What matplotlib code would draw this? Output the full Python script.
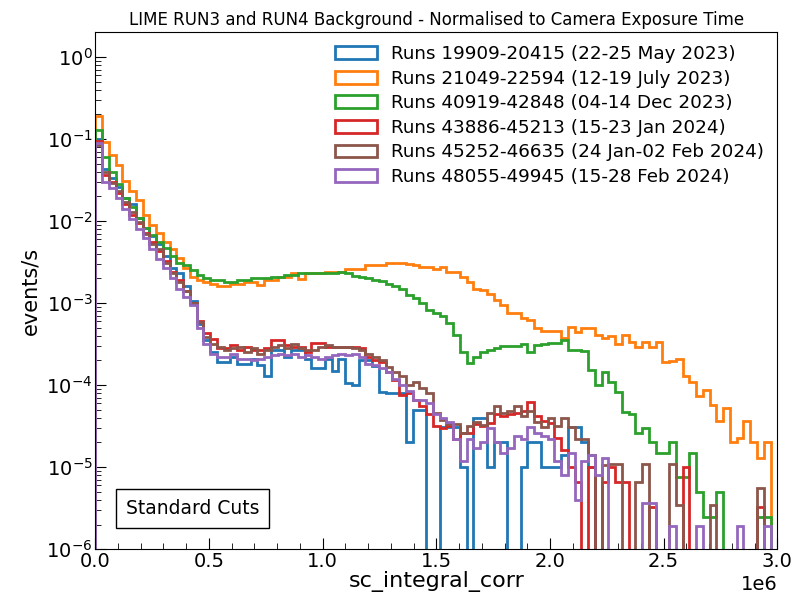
import numpy as np
import matplotlib
matplotlib.use("Agg")
import matplotlib.pyplot as plt
from matplotlib.ticker import MultipleLocator

# 100 bins from 0 to 2.97e6
edges = np.linspace(0, 2.97e6, 101)

labels = [
    "Runs 19909-20415 (22-25 May 2023)",
    "Runs 21049-22594 (12-19 July 2023)",
    "Runs 40919-42848 (04-14 Dec 2023)",
    "Runs 43886-45213 (15-23 Jan 2024)",
    "Runs 45252-46635 (24 Jan-02 Feb 2024)",
    "Runs 48055-49945 (15-28 Feb 2024)",
]
colors = ["tab:blue", "tab:orange", "tab:green", "tab:red", "tab:brown", "tab:purple"]

run_may = [
    0.10, 0.043, 0.033, 0.026, 0.019, 0.016, 0.011, 0.0082, 0.0065, 0.0052,
    0.0037, 0.0027, 0.0023, 0.0016, 1.05e-3, 5.5e-4, 3.5e-4, 2.55e-4, 1.9e-4, 1.9e-4,
    2.2e-4, 1.8e-4, 1.8e-4, 2.1e-4, 1.75e-4, 1.3e-4, 2.7e-4, 2.7e-4, 2.2e-4, 2.7e-4,
    2.7e-4, 2.1e-4, 1.6e-4, 1.6e-4, 2.1e-4, 1.5e-4, 2.1e-4, 1.05e-4, 1.0e-4, 2.0e-4,
    2.0e-4, 1.7e-4, 8.3e-5, 8.0e-5, 8.0e-5, 8.0e-5, 2.0e-5, 5.0e-5, 5.0e-5, 0,
    0, 3.1e-5, 3.1e-5, 3.1e-5, 1.0e-5, 0, 4.0e-5, 4.0e-5, 1.0e-5, 2.0e-5,
    2.0e-5, 0, 0, 1.0e-5, 2.0e-5, 2.0e-5, 1.0e-5, 1.0e-5, 1.0e-5, 1.4e-5,
    3.1e-5, 3.1e-5, 2.0e-5, 1.0e-5, 0, 0, 0, 0, 0, 0,
    0, 0, 0, 0, 0, 0, 0, 0, 0, 0,
    0, 0, 0, 0, 0, 0, 0, 0, 0, 0,
]
run_july = [
    0.19, 0.093, 0.063, 0.048, 0.031, 0.023, 0.018, 0.012, 0.0089, 0.0071,
    0.0056, 0.0045, 0.0035, 0.0027, 0.0021, 0.0019, 0.0018, 0.0017, 0.0016, 0.0016,
    1.7e-3, 1.7e-3, 1.8e-3, 1.8e-3, 1.66e-3, 1.9e-3, 1.9e-3, 2.07e-3, 2.1e-3, 2.3e-3,
    1.95e-3, 2.3e-3, 2.3e-3, 2.3e-3, 2.4e-3, 2.4e-3, 2.4e-3, 2.6e-3, 2.6e-3, 2.6e-3,
    2.9e-3, 2.9e-3, 2.9e-3, 3.1e-3, 3.1e-3, 3.1e-3, 3.0e-3, 2.9e-3, 2.75e-3, 2.75e-3,
    2.6e-3, 2.75e-3, 2.4e-3, 2.4e-3, 2.1e-3, 1.8e-3, 1.5e-3, 1.45e-3, 1.3e-3, 1.1e-3,
    9.5e-4, 7.6e-4, 7.6e-4, 6.6e-4, 6.3e-4, 4.95e-4, 4.6e-4, 4.6e-4, 4.6e-4, 3.8e-4,
    5.1e-4, 4.4e-4, 4.95e-4, 4.95e-4, 4.1e-4, 3.8e-4, 4.0e-4, 3.2e-4, 4.1e-4, 3.4e-4,
    2.9e-4, 3.4e-4, 2.9e-4, 3.4e-4, 1.9e-4, 1.95e-4, 2.1e-4, 1.3e-4, 1.1e-4, 7.3e-5,
    8.7e-5, 5.8e-5, 3.7e-5, 5.2e-5, 2.0e-5, 2.3e-5, 3.7e-5, 2.0e-5, 1.3e-5, 2.0e-5,
]
run_dec = [
    0.13, 0.06, 0.04, 0.028, 0.019, 0.0147, 0.011, 0.0082, 0.0067, 0.0056,
    0.0047, 0.0037, 0.0031, 0.0029, 0.0025, 0.0022, 0.0020, 0.0019, 0.0019, 0.0018,
    1.8e-3, 1.9e-3, 1.9e-3, 2.0e-3, 2.0e-3, 2.05e-3, 2.07e-3, 2.1e-3, 2.2e-3, 2.2e-3,
    2.3e-3, 2.3e-3, 2.3e-3, 2.3e-3, 2.35e-3, 2.35e-3, 2.4e-3, 2.3e-3, 2.15e-3, 2.1e-3,
    2.0e-3, 1.9e-3, 1.85e-3, 1.7e-3, 1.6e-3, 1.5e-3, 1.26e-3, 1.15e-3, 1.0e-3, 8.3e-4,
    7.6e-4, 7.0e-4, 5.7e-4, 4.1e-4, 2.5e-4, 1.85e-4, 2.2e-4, 2.5e-4, 2.7e-4, 2.85e-4,
    3.0e-4, 3.0e-4, 3.0e-4, 3.2e-4, 2.5e-4, 3.1e-4, 3.2e-4, 3.3e-4, 3.3e-4, 3.5e-4,
    2.7e-4, 2.7e-4, 2.6e-4, 1.55e-4, 1.0e-4, 1.45e-4, 1.1e-4, 8.3e-5, 4.7e-5, 4.5e-5,
    2.6e-5, 3.0e-5, 2.0e-5, 1.5e-5, 1.5e-5, 2.0e-5, 7.5e-6, 7.5e-6, 1.5e-5, 5.0e-6,
    2.5e-6, 2.5e-6, 5.0e-6, 0, 0, 0, 0, 0, 2.5e-6, 2.5e-6,
]
run_jan = [
    0.095, 0.036, 0.03, 0.022, 0.016, 0.012, 0.0095, 0.0072, 0.0055, 0.0043,
    0.0033, 0.0024, 0.0019, 0.0014, 1.0e-3, 6.0e-4, 4.3e-4, 3.7e-4, 2.8e-4, 2.8e-4,
    3.1e-4, 2.7e-4, 2.9e-4, 2.7e-4, 2.7e-4, 2.8e-4, 3.5e-4, 3.5e-4, 3.1e-4, 2.9e-4,
    2.9e-4, 2.55e-4, 3.3e-4, 3.3e-4, 2.9e-4, 2.9e-4, 2.9e-4, 2.9e-4, 2.9e-4, 2.8e-4,
    2.2e-4, 2.0e-4, 1.9e-4, 1.45e-4, 1.15e-4, 7.5e-5, 8.0e-5, 6.5e-5, 5.5e-5, 4.5e-5,
    3.2e-5, 3.0e-5, 3.2e-5, 2.2e-5, 2.6e-5, 2.6e-5, 3.4e-5, 3.2e-5, 3.5e-5, 4.5e-5,
    4.2e-5, 4.4e-5, 4.6e-5, 4.8e-5, 6.2e-5, 4.2e-5, 3.7e-5, 3.5e-5, 2.3e-5, 1.6e-5,
    1.0e-5, 6.6e-6, 0, 1.0e-5, 0, 6.6e-6, 1.0e-5, 6.6e-6, 6.6e-6, 0,
    0, 0, 3.3e-6, 0, 0, 0, 0, 1.0e-5, 0, 0,
    0, 0, 0, 0, 0, 0, 0, 0, 3.3e-6, 0,
]
run_feb1 = [
    0.085, 0.04, 0.029, 0.023, 0.017, 0.013, 0.0098, 0.007, 0.0052, 0.0045,
    0.0031, 0.0023, 0.0018, 0.0014, 1.0e-3, 5.8e-4, 3.9e-4, 3.2e-4, 2.9e-4, 2.7e-4,
    2.8e-4, 2.9e-4, 2.55e-4, 2.8e-4, 2.4e-4, 2.7e-4, 2.9e-4, 3.1e-4, 2.8e-4, 3.2e-4,
    2.8e-4, 2.7e-4, 2.7e-4, 2.9e-4, 3.1e-4, 2.9e-4, 2.9e-4, 2.9e-4, 2.8e-4, 2.7e-4,
    2.4e-4, 2.2e-4, 2.0e-4, 1.65e-4, 1.45e-4, 1.3e-4, 1.0e-4, 1.1e-4, 9.2e-5, 8.0e-5,
    4.6e-5, 3.8e-5, 3.4e-5, 3.4e-5, 2.6e-5, 3.2e-5, 3.6e-5, 3.3e-5, 4.6e-5, 5.5e-5,
    4.6e-5, 4.8e-5, 5.5e-5, 4.2e-5, 4.8e-5, 3.6e-5, 3.1e-5, 4.0e-5, 3.2e-5, 4.0e-5,
    3.1e-5, 2.2e-5, 2.2e-5, 1.4e-5, 0, 1.05e-5, 1.1e-5, 1.1e-5, 0, 0,
    6.6e-6, 1.1e-5, 0, 0, 0, 1.1e-5, 3.5e-6, 0, 0, 0,
    0, 3.5e-6, 0, 0, 0, 0, 0, 0, 5.6e-6, 0,
]
run_feb2 = [
    0.09, 0.03, 0.025, 0.019, 0.014, 0.0105, 0.008, 0.0063, 0.0045, 0.0034,
    0.0027, 0.002, 0.0015, 0.0012, 9.5e-4, 5.0e-4, 3.2e-4, 2.4e-4, 2.2e-4, 2.2e-4,
    2.4e-4, 2.1e-4, 2.1e-4, 2.0e-4, 2.1e-4, 2.2e-4, 2.3e-4, 2.4e-4, 2.3e-4, 2.4e-4,
    2.2e-4, 2.3e-4, 2.2e-4, 2.1e-4, 2.2e-4, 2.3e-4, 2.4e-4, 2.3e-4, 2.4e-4, 2.2e-4,
    1.8e-4, 1.75e-4, 1.6e-4, 1.45e-4, 1.2e-4, 1.0e-4, 8.5e-5, 6.6e-5, 6.6e-5, 6.0e-5,
    4.5e-5, 4.0e-5, 3.6e-5, 2.2e-5, 1.2e-5, 2.2e-5, 1.7e-5, 2.0e-5, 3.0e-5, 2.0e-5,
    1.5e-5, 1.7e-5, 2.4e-5, 2.2e-5, 3.1e-5, 2.6e-5, 2.4e-5, 2.2e-5, 1.2e-5, 8.0e-6,
    1.5e-5, 4.0e-6, 1.2e-5, 1.4e-5, 8.0e-6, 1.3e-5, 0, 0, 0, 0,
    0, 3.7e-6, 3.7e-6, 0, 0, 1.9e-6, 0, 0, 0, 1.9e-6,
    0, 0, 0, 0, 0, 1.9e-6, 0, 0, 0, 1.9e-6,
]
series = [run_may, run_july, run_dec, run_jan, run_feb1, run_feb2]

fig, ax = plt.subplots(figsize=(7.94, 5.97), dpi=100)
fig.subplots_adjust(left=0.12, right=0.979, top=0.946, bottom=0.08)

for vals, lab, col in zip(series, labels, colors):
    ax.hist(edges[:-1], bins=edges, weights=vals, histtype="step",
            linewidth=2, color=col, label=lab)

ax.set_yscale("log")
ax.set_xlim(0, 3e6)
ax.set_ylim(1e-6, 2)
ax.xaxis.set_major_locator(MultipleLocator(0.5e6))
ax.xaxis.set_minor_locator(MultipleLocator(0.1e6))
ax.tick_params(which="both", direction="in", labelsize=14, pad=2)
ax.tick_params(which="major", length=8)
ax.tick_params(which="minor", length=4)
ax.xaxis.get_offset_text().set_fontsize(14)

ax.set_xlabel("sc_integral_corr", fontsize=16, labelpad=0)
ax.set_ylabel("events/s", fontsize=15)
ax.set_title("LIME RUN3 and RUN4 Background - Normalised to Camera Exposure Time",
             fontsize=12, pad=5)
ax.legend(loc="upper right", frameon=False, fontsize=13.2,
          handlelength=2.3, labelspacing=0.36, borderaxespad=0.3)
ax.text(0.045, 0.068, "Standard Cuts", transform=ax.transAxes, fontsize=13.5,
        bbox=dict(facecolor="white", edgecolor="black", pad=7))

plt.savefig("out.png")
